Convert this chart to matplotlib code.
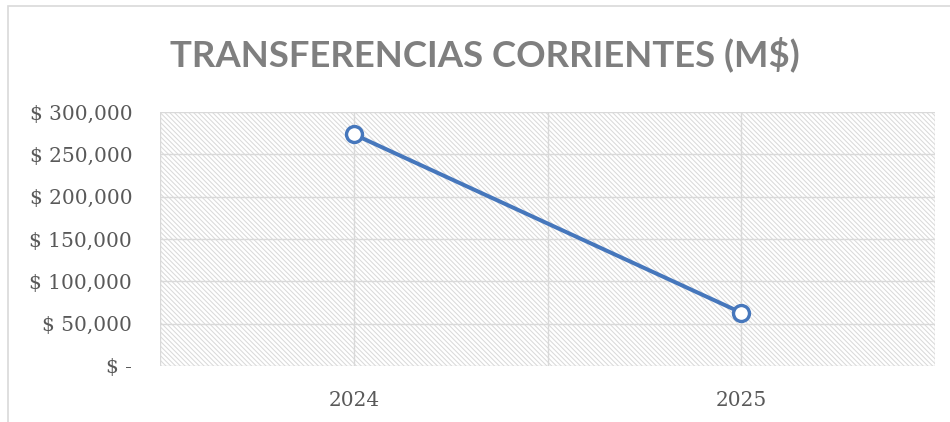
import matplotlib
matplotlib.use("Agg")
import matplotlib.pyplot as plt
from matplotlib.patches import Rectangle
from matplotlib.ticker import FuncFormatter

# data
years = ["2024", "2025"]
values = [273700, 63000]
y_ticks = [0, 50000, 100000, 150000, 200000, 250000, 300000]

line_color = "#4677BC"
text_gray = "#595959"
grid_gray = "#d9d9d9"

plt.rcParams["hatch.color"] = "#dadada"
plt.rcParams["hatch.linewidth"] = 0.75

fig = plt.figure(figsize=(9.5, 4.22), dpi=100)
ax = fig.add_axes([160 / 950, 56 / 422, 775 / 950, 254 / 422])

# hatched plot area
ax.patch.set_facecolor("white")
ax.add_patch(Rectangle((0, 0), 1, 1, transform=ax.transAxes, facecolor="white",
                       edgecolor="#dadada", hatch="\\" * 7, linewidth=0, zorder=0))

x = list(range(len(years)))
ax.plot(x, values, color=line_color, lw=2.9, marker="o", ms=11.5,
        mfc="white", mec=line_color, mew=2.4, zorder=5, clip_on=False)

ax.set_xlim(-0.5, len(years) - 0.5)
ax.set_ylim(0, 300000)
ax.set_xticks(x)
ax.set_xticklabels(years)
ax.set_yticks(y_ticks)


def money(v, pos):
    if v == 0:
        return "$ -"
    return "$ {:,.0f}".format(v)


ax.yaxis.set_major_formatter(FuncFormatter(money))

for v in y_ticks:
    ax.axhline(v, color=grid_gray, lw=1, zorder=1)
for v in [-0.5, 0, 0.5, 1, 1.5]:
    ax.axvline(v, color=grid_gray, lw=1, zorder=1)

for s in ax.spines.values():
    s.set_visible(False)
ax.tick_params(length=0, colors=text_gray, labelsize=14.5)
ax.tick_params(axis="y", pad=20)
ax.tick_params(axis="x", pad=18)
for lab in ax.get_xticklabels() + ax.get_yticklabels():
    lab.set_family("DejaVu Serif")

fig.text(485 / 950, (422 - 66.7) / 422, "TRANSFERENCIAS CORRIENTES (M$)",
         ha="center", va="baseline", fontsize=26.3, fontweight="bold",
         color="#7f7f7f", family="Lato")

# chart border
fig.add_artist(Rectangle((8 / 950, -0.1), 1.2, (422 - 6) / 422 + 0.1,
                         transform=fig.transFigure, fill=False,
                         edgecolor="#d9d9d9", lw=1.2))

fig.savefig("out.png", dpi=100)
